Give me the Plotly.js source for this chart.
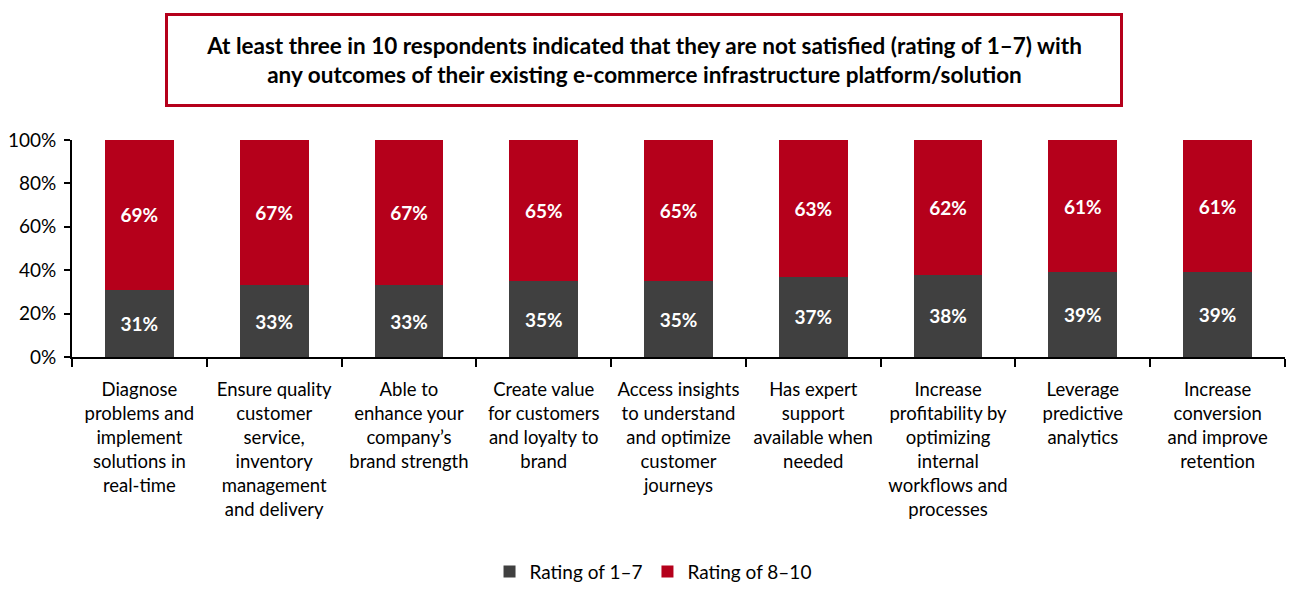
<!DOCTYPE html>
<html><head><meta charset="utf-8">
<script src="https://cdn.plot.ly/plotly-3.0.1.min.js"></script>
<style>html,body{margin:0;padding:0;background:#fff}#chart{width:1292px;height:596px}</style>
</head><body><div id="chart"></div>
<script>
const categories = [
  "Diagnose<br>problems and<br>implement<br>solutions in<br>real-time",
  "Ensure quality<br>customer<br>service,<br>inventory<br>management<br>and delivery",
  "Able to<br>enhance your<br>company’s<br>brand strength",
  "Create value<br>for customers<br>and loyalty to<br>brand",
  "Access insights<br>to understand<br>and optimize<br>customer<br>journeys",
  "Has expert<br>support<br>available when<br>needed",
  "Increase<br>profitability by<br>optimizing<br>internal<br>workflows and<br>processes",
  "Leverage<br>predictive<br>analytics",
  "Increase<br>conversion<br>and improve<br>retention"
];
const low = [31, 33, 33, 35, 35, 37, 38, 39, 39];
const high = [69, 67, 67, 65, 65, 63, 62, 61, 61];
const seriesNames = ["Rating of 1–7", "Rating of 8–10"];
const titleText = "At least three in 10 respondents indicated that they are not satisfied (rating of 1–7) with<br>any outcomes of their existing e-commerce infrastructure platform/solution";

const FONT = "Lato, 'Open Sans', sans-serif";
const mk = (vals, name, color) => ({
  type: 'bar', x: categories, y: vals, name: name,
  marker: {color: color},
  text: vals.map(v => v + '%'), textposition: 'inside', insidetextanchor: 'middle',
  textfont: {color: '#ffffff', size: 19, family: FONT, weight: 'bold'},
  hoverinfo: 'none'
});
const data = [mk(low, seriesNames[0], '#404040'), mk(high, seriesNames[1], '#b5001b')];
const layout = {
  width: 1292, height: 596,
  margin: {l: 72, r: 7, t: 140, b: 238},
  barmode: 'stack', bargap: 0.49,
  paper_bgcolor: '#fff', plot_bgcolor: '#fff',
  font: {family: FONT, size: 19, color: '#000'},
  showlegend: true,
  legend: {orientation: 'h', x: 0.479, xanchor: 'center', y: -0.98, yanchor: 'middle',
           font: {size: 19, family: FONT}, traceorder: 'normal'},
  xaxis: {type: 'category', showline: true, linecolor: '#000', linewidth: 2,
          ticks: 'outside', tickson: 'boundaries', ticklen: 8, tickcolor: '#000', tickwidth: 2,
          tickangle: 0, tickfont: {size: 18.5, family: FONT}, ticklabelstandoff: 15,
          showgrid: false, automargin: false},
  yaxis: {range: [0, 100], tickvals: [0, 20, 40, 60, 80, 100], ticktext: ['0%','20%','40%','60%','80%','100%'],
          showline: true, linecolor: '#000', linewidth: 2, ticks: 'outside', ticklen: 6,
          tickcolor: '#000', tickwidth: 2, showgrid: false, zeroline: false,
          tickfont: {size: 19, family: FONT}, ticklabelstandoff: 4, automargin: false},
  annotations: [{
    text: '<b>' + titleText.replace('<br>', '</b><br><b>') + '</b>',
    xref: 'paper', yref: 'paper', x: 0.4712, y: 1.367, xanchor: 'center', yanchor: 'middle',
    showarrow: false, font: {size: 22.5, family: FONT, color: '#000'},
    bordercolor: '#b5001b', borderwidth: 3, borderpad: 0, width: 952, height: 88,
    bgcolor: '#fff', align: 'center'
  }]
};
Plotly.newPlot('chart', data, layout, {displayModeBar: false, staticPlot: true});
</script></body></html>
